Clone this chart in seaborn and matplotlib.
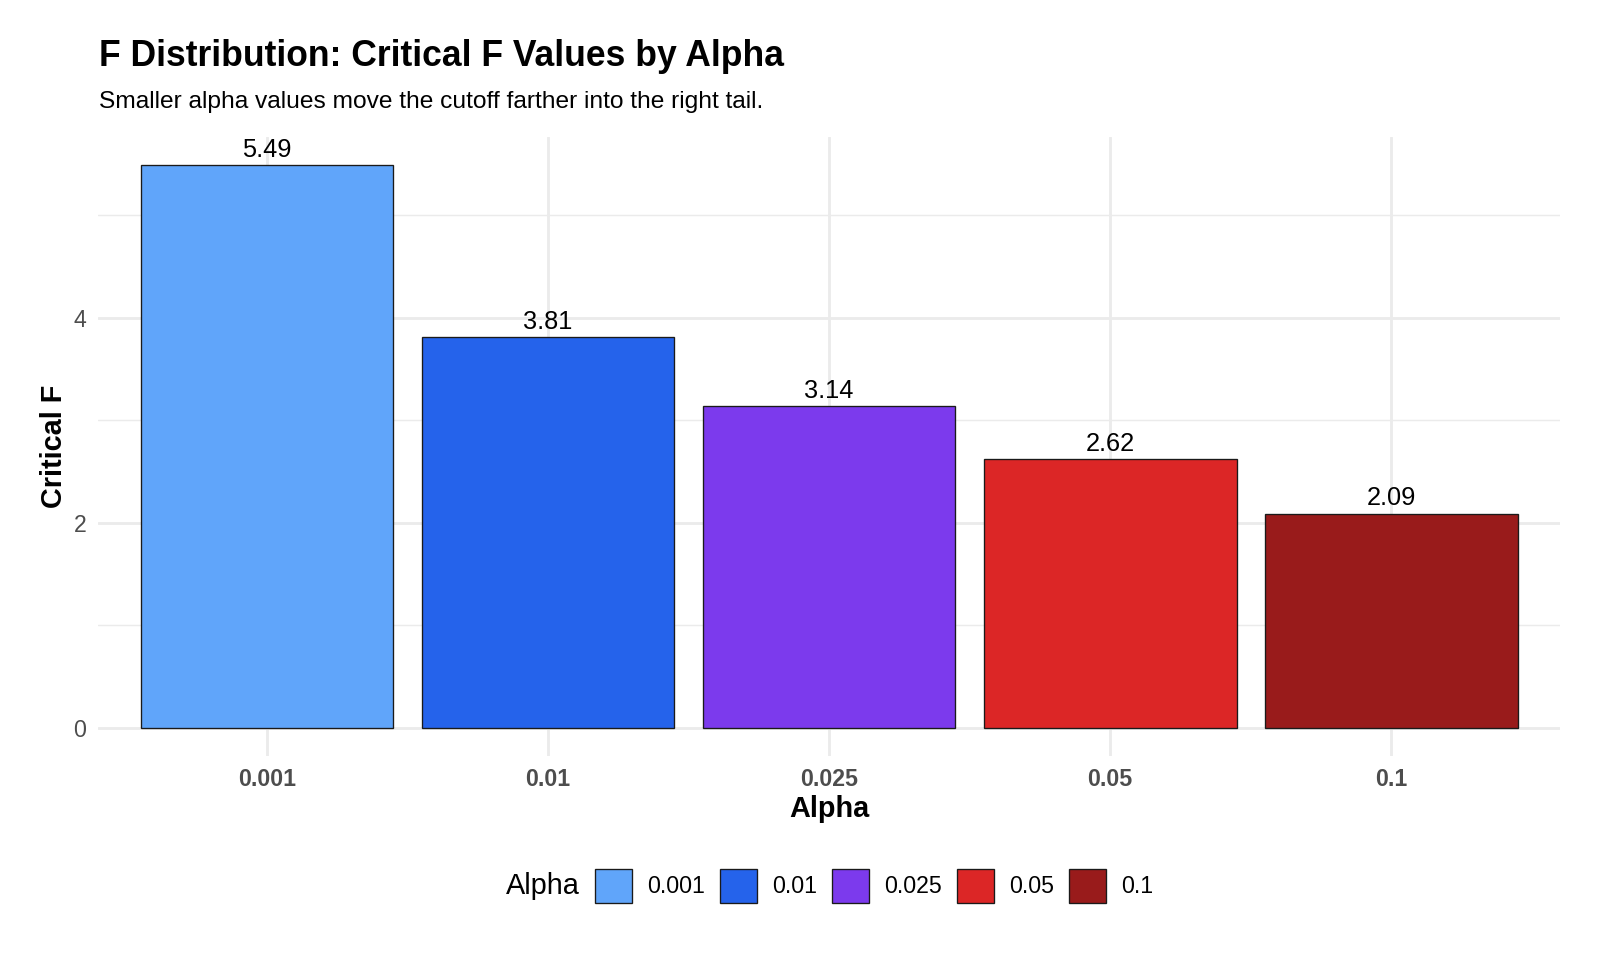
import pandas as pd
import seaborn as sns
import matplotlib.pyplot as plt

# data
alpha_levels = ['0.001', '0.01', '0.025', '0.05', '0.1']
critical_f = [5.49, 3.81, 3.14, 2.62, 2.09]
bar_colors = ['#60A5FA', '#2563EB', '#7C3AED', '#DC2626', '#991B1B']

df = pd.DataFrame({'Alpha': alpha_levels, 'Critical F': critical_f})
palette = dict(zip(alpha_levels, bar_colors))

sns.set_style('whitegrid')
plt.rcParams['font.family'] = ['Liberation Sans', 'DejaVu Sans']
plt.rcParams['text.color'] = 'black'

fig = plt.figure(figsize=(10, 6), dpi=160)
fig.set_facecolor('white')
ax = fig.add_axes([0.0615, 0.2125, 0.9133, 0.6448])

sns.barplot(data=df, x='Alpha', y='Critical F', hue='Alpha', order=alpha_levels,
            hue_order=alpha_levels, palette=palette, width=0.9, edgecolor='#1a1a1a',
            linewidth=0.6, saturation=1, legend=True, ax=ax)

# value labels above bars
for cont in ax.containers:
    ax.bar_label(cont, fmt='%.2f', padding=1.5, fontsize=11.4, color='black')

ax.set_xlim(-0.6, 4.6)
ax.set_ylim(-0.2745, 5.7645)
ax.set_yticks([0, 2, 4])
ax.set_yticks([1, 3, 5], minor=True)
ax.grid(True, which='major', color='#EBEBEB', linewidth=1.3)
ax.grid(True, which='minor', axis='y', color='#EBEBEB', linewidth=0.65)
ax.set_axisbelow(True)
for s in ax.spines.values():
    s.set_visible(False)
ax.tick_params(axis='both', which='both', length=0)
ax.tick_params(axis='x', pad=5.5, labelsize=10.4, labelcolor='#4D4D4D')
ax.tick_params(axis='y', pad=5.5, labelsize=10.4, labelcolor='#4D4D4D')
for t in ax.get_xticklabels():
    t.set_fontweight('bold')

ax.set_xlabel('Alpha', fontsize=13, fontweight='bold', color='black')
ax.xaxis.label.set_va('center')
ax.xaxis.set_label_coords(0.5, -0.086)
ax.set_ylabel('Critical F', fontsize=13, fontweight='bold', color='black')
ax.yaxis.label.set_va('center')
ax.yaxis.set_label_coords(-0.0302, 0.5)

# titles
fig.text(99 / 1600, 1 - 66 / 960, 'F Distribution: Critical F Values by Alpha',
         fontsize=16, fontweight='bold', va='baseline', ha='left', color='black')
fig.text(99 / 1600, 1 - 108 / 960, 'Smaller alpha values move the cutoff farther into the right tail.',
         fontsize=11, va='baseline', ha='left', color='black')

# legend at the bottom with title on the left
handles = ax.legend_.legend_handles
labels = [t.get_text() for t in ax.legend_.texts]
ax.legend_.remove()
for h in handles:
    h.set_edgecolor('#1a1a1a')
    h.set_linewidth(0.6)
fig.legend(handles, labels, loc='center left', bbox_to_anchor=(595 / 1600, 1 - 886 / 960),
           ncol=5, frameon=False, borderpad=0, borderaxespad=0, fontsize=10.4,
           handlelength=1.6, handleheight=1.85, handletextpad=0.65, columnspacing=0.65,
           labelcolor='black')
fig.text(506 / 1600, 1 - 886 / 960, 'Alpha', fontsize=13, va='center', ha='left', color='black')

fig.savefig('out.png', dpi=160, facecolor='white')
